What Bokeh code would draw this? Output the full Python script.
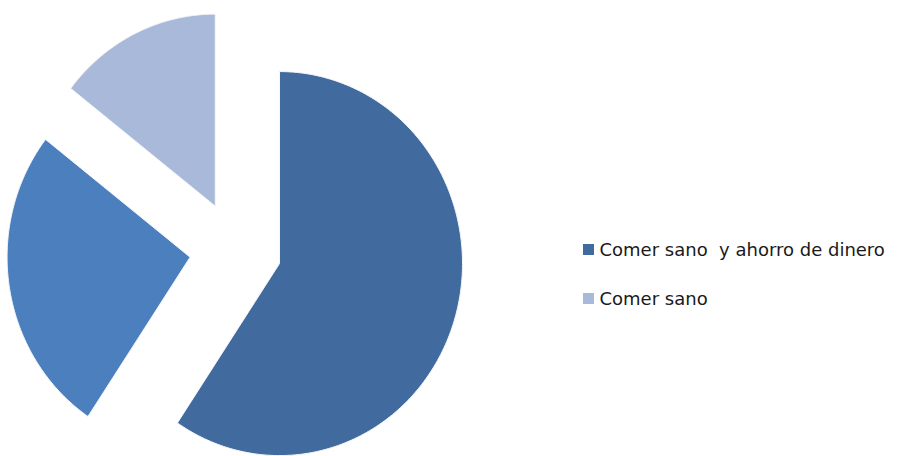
import numpy as np
from bokeh.plotting import figure
from bokeh.models import Range1d, ColumnDataSource
from bokeh.core.properties import value
from bokeh.embed import file_html
from bokeh.resources import INLINE

# data
categories = ["Comer sano  y ahorro de dinero", "Otros", "Comer sano"]
counts = [41, 18, 10]
colors = ["#416A9F", "#4C7FBD", "#A8B9D9"]
legend_index = [0, 2]

W, H = 904, 456
p = figure(width=W, height=H, output_backend="svg", toolbar_location=None,
           x_range=Range1d(0, W), y_range=Range1d(H, 0), min_border=0)
p.axis.visible = False
p.grid.visible = False
p.outline_line_color = None
p.background_fill_color = "white"
p.border_fill_color = "white"

cx, cy = 235, 249
rx, ry = 183, 192
explode = 46

total = float(sum(counts))
start = np.pi / 2
xs, ys = [], []
for c in counts:
    sweep = 2 * np.pi * c / total
    a0, a1 = start, start - sweep
    mid = (a0 + a1) / 2
    ox = cx + explode * np.cos(mid)
    oy = cy - explode * (ry / rx) * np.sin(mid)
    t = np.linspace(a0, a1, 200)
    px = np.concatenate([[ox], ox + rx * np.cos(t), [ox]])
    py = np.concatenate([[oy], oy - ry * np.sin(t), [oy]])
    xs.append(list(px))
    ys.append(list(py))
    start = a1

src = ColumnDataSource(dict(xs=xs, ys=ys, color=colors))
p.patches("xs", "ys", source=src, fill_color="color", line_color="#F4F6FA", line_width=1)

# legend
lx, ly0, dy = 588, 249, 49
leg = ColumnDataSource(dict(
    x=[lx] * len(legend_index),
    y=[ly0 + i * dy for i in range(len(legend_index))],
    tx=[lx + 11] * len(legend_index),
    color=[colors[i] for i in legend_index],
    label=[categories[i].replace("  ", " \u00a0") for i in legend_index],
))
p.rect("x", "y", width=11, height=11, source=leg, fill_color="color", line_color=None)
p.text("tx", "y", text="label", source=leg, text_font=value("DejaVu Sans"), text_font_size="18px",
       text_baseline="middle", text_align="left", text_color="#1a1a1a")

open("out.html", "w").write(file_html(p, INLINE))
